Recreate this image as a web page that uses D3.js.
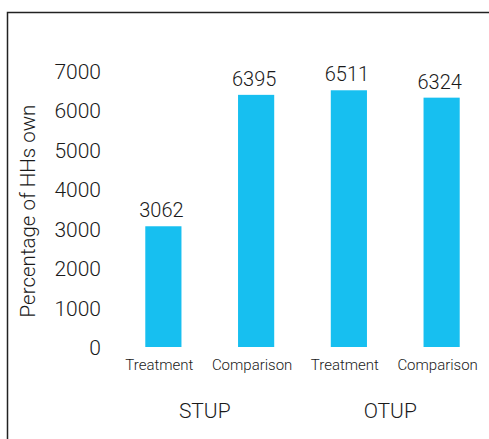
<!DOCTYPE html>
<html>
<head>
<meta charset="utf-8">
<script src="https://cdn.jsdelivr.net/npm/d3@7/dist/d3.min.js"></script>
<style>
  html, body { margin: 0; padding: 0; background: #fff; }
  svg { display: block; }
  text { font-family: Roboto, "Liberation Sans", Arial, sans-serif; font-weight: 300; fill: #1a1a1a; }
</style>
</head>
<body>
<script>
// ---- data ----
const groups = ["STUP", "OTUP"];
const categories = ["Treatment", "Comparison", "Treatment", "Comparison"];
const categoryGroup = ["STUP", "STUP", "OTUP", "OTUP"];
const values = [3062, 6395, 6511, 6324];
const yTicks = [0, 1000, 2000, 3000, 4000, 5000, 6000, 7000];
const yTitle = "Percentage of HHs own";

const W = 489, H = 439;
const svg = d3.select("body").append("svg").attr("width", W).attr("height", H);

// frame
svg.append("path")
  .attr("d", `M7.5,${H} V12.5 H${W}`)
  .attr("fill", "none").attr("stroke", "#222").attr("stroke-width", 1.5);

const ids = d3.range(values.length);
const x = d3.scaleBand().domain(ids).range([117, 488]).paddingInner(0.61).paddingOuter(0.305);
const y = d3.scaleLinear().domain([0, 7000]).range([347, 71]);

// y axis (labels only)
const yAxis = svg.append("g").attr("transform", "translate(101,0)")
  .call(d3.axisLeft(y).tickValues(yTicks).tickSize(0).tickPadding(0).tickFormat(d3.format("d")));
yAxis.select(".domain").remove();
yAxis.selectAll("text").style("font-size", "21px").attr("fill", "#1a1a1a").attr("dy", "0.36em");

svg.append("text")
  .attr("transform", `translate(35,${(y(0) + y(7000)) / 2 + 2}) rotate(-90)`)
  .attr("text-anchor", "middle")
  .style("font-size", "20.5px")
  .text(yTitle);

// bars
svg.selectAll("rect.bar").data(ids).join("rect")
  .attr("class", "bar")
  .attr("x", i => x(i)).attr("width", x.bandwidth())
  .attr("y", i => y(values[i])).attr("height", i => y(0) - y(values[i]))
  .attr("fill", "#17BFF0");

// value labels
svg.selectAll("text.val").data(ids).join("text")
  .attr("class", "val")
  .attr("x", i => x(i) + x.bandwidth() / 2 - 2)
  .attr("y", i => y(values[i]) - 9)
  .attr("text-anchor", "middle")
  .style("font-size", "20px")
  .text(i => values[i]);

// category labels
const xAxis = svg.append("g").attr("transform", `translate(-4,${y(0)})`)
  .call(d3.axisBottom(x).tickSize(0).tickPadding(12).tickFormat(i => categories[i]));
xAxis.select(".domain").remove();
xAxis.selectAll("text").style("font-size", "15px").attr("fill", "#1a1a1a");

// group labels
groups.forEach(g => {
  const members = ids.filter(i => categoryGroup[i] === g);
  const cx = d3.mean(members, i => x(i) + x.bandwidth() / 2);
  svg.append("text")
    .attr("x", cx - 5).attr("y", 418)
    .attr("text-anchor", "middle")
    .style("font-size", "21px")
    .text(g);
});
</script>
</body>
</html>
